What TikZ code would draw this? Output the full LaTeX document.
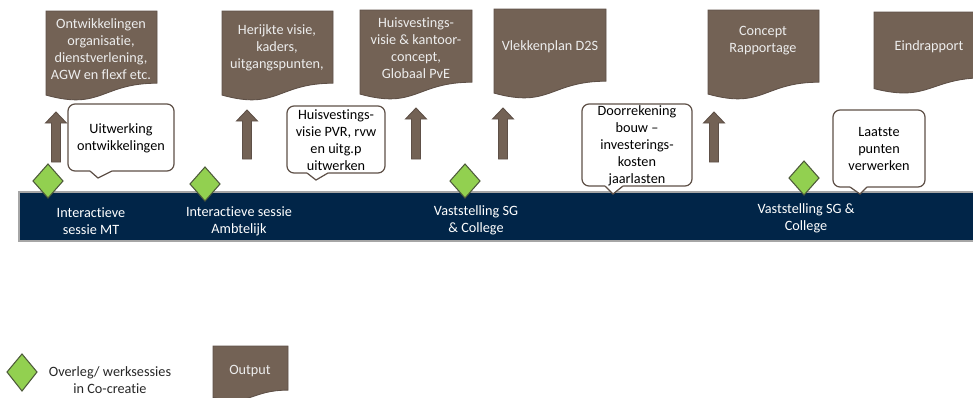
\documentclass[tikz,border=0pt]{standalone}
\usepackage{fontspec}
\setmainfont[Ligatures={NoCommon}]{Carlito}
\definecolor{bruin}{HTML}{736255}
\definecolor{bruinrand}{HTML}{5E5047}
\definecolor{marine}{HTML}{012548}
\definecolor{groen}{HTML}{92D050}
\definecolor{groenrand}{HTML}{4D5A3A}
\begin{document}
\begin{tikzpicture}[x=0.02cm, y=-0.02cm,
	every node/.style={font=\fontsize{8.1}{9.7}\selectfont, align=center, inner sep=0pt},
	docu/.style={fill=bruin, draw=bruinrand, line width=0.5pt},
	doctekst/.style={text=white!93!black},
	ballon/.style={draw=bruinrand, line width=0.7pt},
	pijl/.style={fill=bruin, draw=bruinrand, line width=0.5pt},
	ruit/.style={fill=groen, draw=groenrand, line width=0.6pt},
	balktekst/.style={text=white}]
	\clip (0,0) rectangle (973,397);
	% Tijdbalk
	\draw[fill=marine, draw=gray!70, line width=0.6pt] (19,192) rectangle (990,241);
	% Documenten (output)
	\foreach \x/\t/\w/\h in {46/11/111/90, 222/11/111/90, 360/10/112/90, 494/9/112/90, 708/10/111/90, 874/12/111/82, 213/346/75/55}
		\draw[docu] (\x,\t) -- (\x+\w,\t) -- (\x+\w,\t+0.802*\h) .. controls (\x+0.5*\w,\t+0.802*\h) and (\x+0.5*\w,\t+1.107*\h) .. (\x,\t+0.934*\h) -- cycle;
	\node[doctekst] (ontw) at (101,49) {Ontwikkelingen\\organisatie,\\dienstverlening,\\AGW en flexf etc.};
	\node[doctekst] (visie) at (277,48) {Herijkte visie,\\kaders,\\uitgangspunten,};
	\node[doctekst] (huisv) at (416,48) {Huisvestings-\\visie \& kantoor-\\concept,\\Globaal PvE};
	\node[doctekst] (vlek) at (550,47) {Vlekkenplan D2S};
	\node[doctekst] (concept) at (763,41) {Concept\\Rapportage};
	\node[doctekst] (eind) at (929,47) {Eindrapport};
	\node[doctekst] (output) at (250,371) {Output};
	% Pijlen omhoog
	\foreach \c/\tp/\b in {56/112/162, 247/110/159, 416/108/159, 503/108/159, 714/112/162}
		\draw[pijl] (\c-4.5,\b) -- (\c-4.5,\tp+11) -- (\c-10.5,\tp+11) -- (\c,\tp) -- (\c+10.5,\tp+11) -- (\c+4.5,\tp+11) -- (\c+4.5,\b) -- cycle;
	% Tekstballonnen
	\foreach \xa/\ya/\xb/\yb/\p/\q/\r/\ty in {68/104/174/171/90/98/112/178, 287/106/385/173/307/316/328/180, 582/104/692/186/605/613/623/194, 833/110/925/187/850/860/867/194} {
		\draw[ballon, fill=white, rounded corners=4pt] (\xa,\ya) rectangle (\xb,\yb);
		\fill[white] (\p,\yb-1.5) -- (\r,\yb-1.5) -- (\r,\yb) -- (\q,\ty) -- (\p,\yb) -- cycle;
		\draw[ballon] (\p,\yb) -- (\q,\ty) -- (\r,\yb);
	}
	\node (uitw) at (121,138) {Uitwerking\\ontwikkelingen};
	\node (pvr) at (336,140) {Huisvestings-\\visie PVR, rvw\\en uitg.p\\uitwerken};
	\node (doorr) at (637,146) {Doorrekening\\bouw --\\investerings-\\kosten\\jaarlasten};
	\node (laatste) at (879,149) {Laatste\\punten\\verwerken};
	% Ruiten (overleg)
	\foreach \c/\m in {48/181, 205/184, 465/181, 804/178}
		\draw[ruit] (\c,\m-17) -- (\c+15,\m) -- (\c,\m+17) -- (\c-15,\m) -- cycle;
	\draw[ruit] (22,354) -- (37,372) -- (22,391) -- (7,372) -- cycle;
	% Teksten op de balk
	\node[balktekst] (mt) at (91,221) {Interactieve\\sessie MT};
	\node[balktekst] (ambt) at (239,221) {Interactieve sessie\\Ambtelijk};
	\node[balktekst] (sg) at (476,220) {Vaststelling SG\\\& College};
	\node[balktekst] (sgb) at (806,218) {Vaststelling SG \&\\College};
	% Legenda
	\node[text=black!85] (legenda) at (110,380) {Overleg/ werksessies\\in Co-creatie};
\end{tikzpicture}
\end{document}
